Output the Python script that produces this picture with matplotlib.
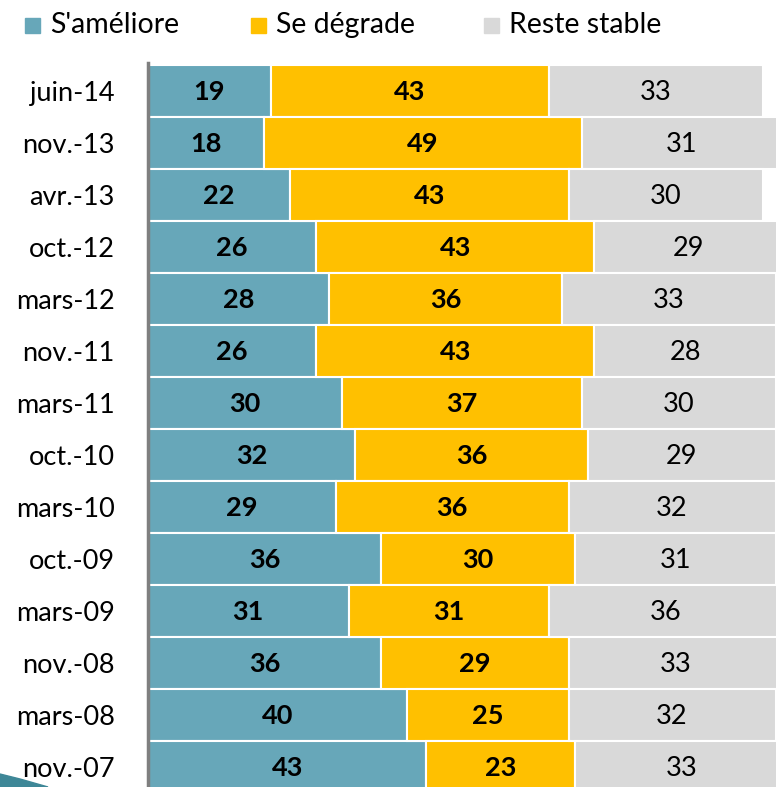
import numpy as np
import matplotlib
matplotlib.use("Agg")
import matplotlib.pyplot as plt
from matplotlib.patches import Rectangle, Polygon

plt.rcParams['font.family'] = ['Lato', 'DejaVu Sans']

# données (du haut vers le bas)
periodes = ['juin-14', 'nov.-13', 'avr.-13', 'oct.-12', 'mars-12', 'nov.-11', 'mars-11',
            'oct.-10', 'mars-10', 'oct.-09', 'mars-09', 'nov.-08', 'mars-08', 'nov.-07']
ameliore = [19, 18, 22, 26, 28, 26, 30, 32, 29, 36, 31, 36, 40, 43]
degrade = [43, 49, 43, 43, 36, 43, 37, 36, 36, 30, 31, 29, 25, 23]
stable = [33, 31, 30, 29, 33, 28, 30, 29, 32, 31, 36, 33, 32, 33]

series = [("S'améliore", ameliore, '#67a7b9', 'bold'),
          ("Se dégrade", degrade, '#ffc000', 'bold'),
          ("Reste stable", stable, '#d9d9d9', 'normal')]

fig = plt.figure(figsize=(7.76, 7.87), dpi=100)
ax = fig.add_axes([148 / 776, 0, 1 - 148 / 776, 1 - 63 / 787])

y = np.arange(len(periodes))
left = np.zeros(len(periodes))
for nom, vals, col, poids in series:
    vals = np.array(vals)
    ax.barh(y, vals, left=left, height=1.0, color=col, edgecolor='white', linewidth=1.5)
    for yi, l, v in zip(y, left, vals):
        ax.text(l + v / 2, yi + 0.02, str(v), ha='center', va='center', fontsize=19.5,
                fontweight=poids, color='black')
    left += vals

ax.set_xlim(0, 97.06)
ax.set_ylim(13.385, -0.538)
ax.set_yticks(y)
ax.set_yticklabels(periodes, fontsize=19.5)
ax.tick_params(axis='y', length=0, pad=24)
ax.set_xticks([])
for s in ['top', 'right', 'bottom']:
    ax.spines[s].set_visible(False)
ax.spines['left'].set_color('#7f7f7f')
ax.spines['left'].set_linewidth(2.5)

# légende
x_carre = [25, 251, 484]
x_texte = [50, 276, 509]
for (nom, vals, col, poids), xc, xt in zip(series, x_carre, x_texte):
    fig.patches.append(Rectangle((xc / 776, 1 - 33 / 787), 15 / 776, 15 / 787,
                                 transform=fig.transFigure, color=col))
    fig.text(xt / 776, 1 - 33 / 787, nom, fontsize=20.5, va='baseline', ha='left')

# petit motif décoratif en bas à gauche
fig.patches.append(Polygon([[0, 0], [0, 13 / 787], [20 / 776, 8 / 787], [48 / 776, 0]],
                           closed=True, transform=fig.transFigure, color='#3e8797'))

fig.savefig('out.png', dpi=100)
